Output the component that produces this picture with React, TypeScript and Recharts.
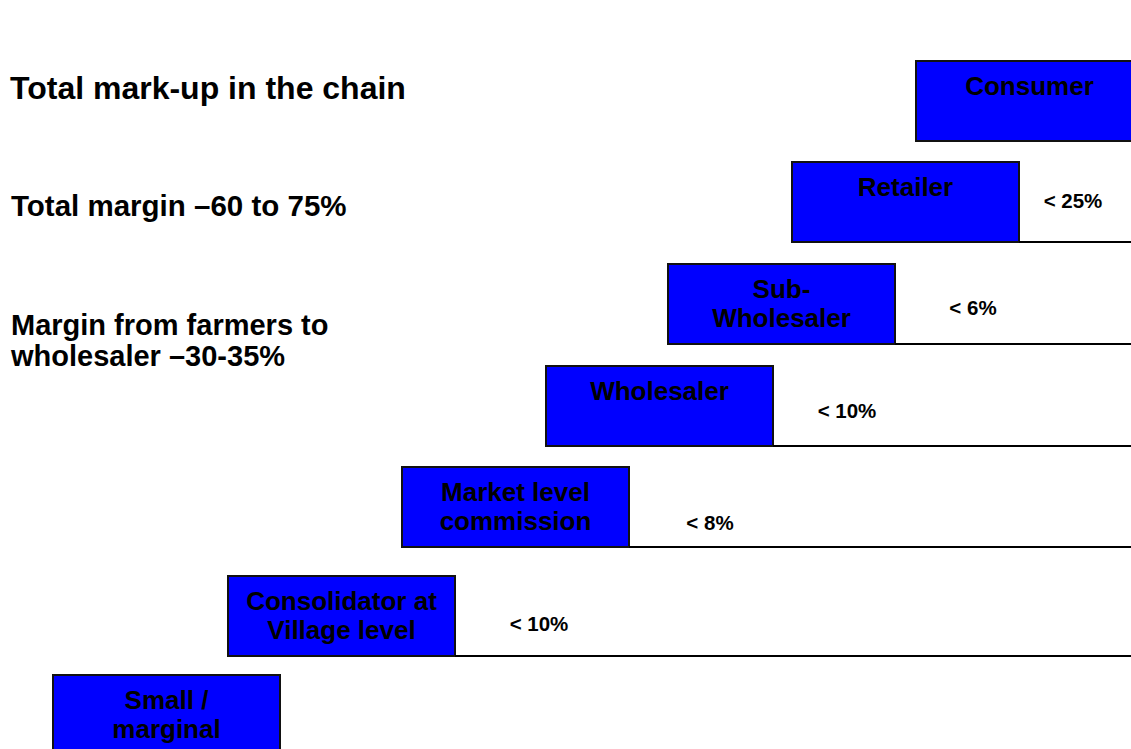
import React from 'react';
import { ComposedChart, XAxis, YAxis, Scatter, ReferenceArea, ReferenceLine } from 'recharts';

// stages of the chain, from farmer to consumer
const stages = [
  ['Small /', 'marginal'],
  ['Consolidator at', 'Village level'],
  ['Market level', 'commission'],
  ['Wholesaler'],
  ['Sub-', 'Wholesaler'],
  ['Retailer'],
  ['Consumer'],
];
// where each stage box starts along the chain, and its level (top edge), in chart units
const stageStart = [53, 228, 402, 546, 668, 792, 916];
const stageLevel = [675, 576, 467, 366, 264, 162, 61];
// mark-up added at each step
const markups = [null, '< 10%', '< 8%', '< 10%', '< 6%', '< 25%', null];
const markupX = [0, 539, 710, 847, 973, 1073, 0];
const markupY = [0, 624, 523, 411, 308, 201, 0];

const W = 1131;
const H = 749;
const BOX_W = 227;
const BOX_H = 80;
const FONT = '"Liberation Sans", Arial, Helvetica, sans-serif';

const labelPoints = stages.map((lines, i) => ({
  x: stageStart[i] + BOX_W / 2,
  y: stageLevel[i],
  lines,
}));

const markupPoints = markups
  .map((m, i) => ({ x: markupX[i], y: markupY[i], label: m }))
  .filter((p) => p.label !== null);

const BoxText = (props: any) => {
  const { cx, cy, payload } = props;
  return (
    <text textAnchor="middle" fontFamily={FONT} fontWeight="bold" fontSize={26} fill="#000">
      {payload.lines.map((l: string, k: number) => (
        <tspan key={k} x={cx} y={cy + 34 + k * 29}>
          {l}
        </tspan>
      ))}
    </text>
  );
};

const MarkupText = (props: any) => {
  const { cx, cy, payload } = props;
  return (
    <text x={cx} y={cy + 7} textAnchor="middle" fontFamily={FONT} fontWeight="bold" fontSize={20.5} fill="#000">
      {payload.label}
    </text>
  );
};

const sideText: React.CSSProperties = {
  position: 'absolute',
  left: 11,
  fontFamily: FONT,
  fontWeight: 'bold',
  lineHeight: 1,
  color: '#000',
  whiteSpace: 'nowrap',
};

export default function App() {
  return (
    <div style={{ position: 'absolute', left: 0, top: 0, width: W, height: H, overflow: 'hidden', background: '#fff' }}>
      <ComposedChart width={W} height={H} margin={{ top: 0, right: 0, bottom: 0, left: 0 }}>
        <XAxis type="number" dataKey="x" domain={[0, W]} allowDataOverflow hide />
        <YAxis type="number" dataKey="y" domain={[0, H]} reversed allowDataOverflow hide />
        {stages.map((_, i) => (
          <ReferenceArea
            key={'box' + i}
            x1={stageStart[i]}
            x2={stageStart[i] + BOX_W}
            y1={stageLevel[i]}
            y2={stageLevel[i] + BOX_H}
            fill="#0000FF"
            fillOpacity={1}
            stroke="#111"
            strokeWidth={2}
            ifOverflow="visible"
          />
        ))}
        {markups.map((m, i) =>
          m === null ? null : (
            <ReferenceLine
              key={'line' + i}
              segment={[
                { x: stageStart[i] + BOX_W, y: stageLevel[i] + BOX_H },
                { x: W, y: stageLevel[i] + BOX_H },
              ]}
              stroke="#000"
              strokeWidth={2}
              ifOverflow="visible"
            />
          )
        )}
        <Scatter data={labelPoints} shape={BoxText} isAnimationActive={false} />
        <Scatter data={markupPoints} shape={MarkupText} isAnimationActive={false} />
      </ComposedChart>
      <div style={{ ...sideText, left: 10, top: 72, fontSize: 32 }}>Total mark-up in the chain</div>
      <div style={{ ...sideText, top: 191, fontSize: 29.5 }}>Total margin –60 to 75%</div>
      <div style={{ ...sideText, top: 311, fontSize: 29 }}>Margin from farmers to</div>
      <div style={{ ...sideText, top: 342, fontSize: 29 }}>wholesaler –30-35%</div>
    </div>
  );
}
